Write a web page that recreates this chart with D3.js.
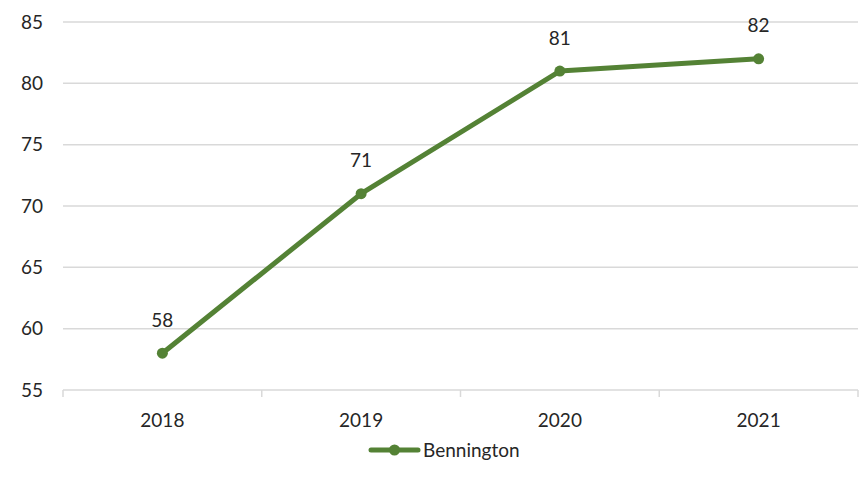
<!DOCTYPE html>
<html><head><meta charset="utf-8">
<script src="https://cdn.jsdelivr.net/npm/d3@7"></script>
<style>body{margin:0;background:#fff;} text{font-family:Lato,"Open Sans",sans-serif;fill:#262626;}</style>
</head><body><svg id="c" width="861" height="491"></svg>
<script>
const categories = ["2018","2019","2020","2021"];
const values = [58,71,81,82];
const seriesName = "Bennington";
const yTicks = [55,60,65,70,75,80,85];

const svg = d3.select("#c");
const m = {l:63, r:858, t:22, b:390};
const x = d3.scaleBand().domain(categories).range([m.l, m.r]);
const y = d3.scaleLinear().domain([55,85]).range([m.b, m.t]);
const color = "#548235", grid = "#d9d9d9";
const fs = 19;

svg.append("g").selectAll("line").data(yTicks).join("line")
  .attr("x1", m.l).attr("x2", m.r).attr("y1", d=>y(d)).attr("y2", d=>y(d))
  .attr("stroke", grid).attr("stroke-width", 1.5);
svg.append("g").selectAll("text").data(yTicks).join("text")
  .attr("x", 43).attr("y", d=>y(d)).attr("dy","0.35em").attr("text-anchor","end")
  .attr("font-size", fs).text(d=>d);
const xa = svg.append("g").attr("transform", `translate(0,${m.b})`)
  .call(d3.axisBottom(x).tickSize(0).tickPadding(24));
xa.select(".domain").remove();
xa.selectAll("text").attr("font-size", fs).attr("fill","#262626").style("font-family","Lato,'Open Sans',sans-serif");
const bounds = categories.map(c=>x(c)).concat([x(categories[categories.length-1])+x.bandwidth()]);
svg.append("g").selectAll("line").data(bounds).join("line")
  .attr("x1", d=>d).attr("x2", d=>d).attr("y1", m.b).attr("y2", m.b+7)
  .attr("stroke", grid).attr("stroke-width", 1.5);

const cx = d=>x(d)+x.bandwidth()/2;
const line = d3.line().x((d,i)=>cx(categories[i])).y(d=>y(d));
svg.append("path").datum(values).attr("d", line).attr("fill","none")
  .attr("stroke", color).attr("stroke-width", 5).attr("stroke-linejoin","round");
svg.append("g").selectAll("circle").data(values).join("circle")
  .attr("cx", (d,i)=>cx(categories[i])).attr("cy", d=>y(d)).attr("r", 5.5).attr("fill", color);
svg.append("g").selectAll("text").data(values).join("text")
  .attr("x", (d,i)=>cx(categories[i])).attr("y", d=>y(d)-33).attr("dy","0.35em").attr("text-anchor","middle")
  .attr("font-size", fs).text(d=>d);

const lg = svg.append("g");
lg.append("line").attr("x1", 371).attr("x2", 418).attr("y1", 450).attr("y2", 450)
  .attr("stroke", color).attr("stroke-width", 5).attr("stroke-linecap","round");
lg.append("circle").attr("cx", 394.5).attr("cy", 450).attr("r", 5.5).attr("fill", color);
lg.append("text").attr("x", 423).attr("y", 450).attr("dy","0.35em").attr("font-size", fs).text(seriesName);
</script></body></html>
